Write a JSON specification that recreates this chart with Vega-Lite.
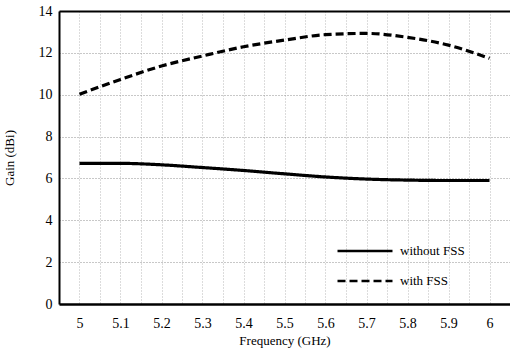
{
  "$schema": "https://vega.github.io/schema/vega-lite/v6.json",
  "width": 451,
  "height": 293,
  "autosize": {"type": "none"},
  "padding": {"left": 59, "top": 11, "right": 0, "bottom": 56},
  "background": "white",
  "config": {
    "view": {"stroke": null},
    "font": "Liberation Serif",
    "axis": {"labelFont": "Liberation Serif", "titleFont": "Liberation Serif", "labelColor": "black", "titleColor": "black", "titleFontWeight": "normal"},
    "legend": {"labelFont": "Liberation Serif"}
  },
  "data": {
    "values": [
      {"f": 5.0, "g": 6.72, "s": "without FSS"},
      {"f": 5.1, "g": 6.72, "s": "without FSS"},
      {"f": 5.2, "g": 6.65, "s": "without FSS"},
      {"f": 5.3, "g": 6.52, "s": "without FSS"},
      {"f": 5.4, "g": 6.38, "s": "without FSS"},
      {"f": 5.5, "g": 6.22, "s": "without FSS"},
      {"f": 5.6, "g": 6.07, "s": "without FSS"},
      {"f": 5.7, "g": 5.97, "s": "without FSS"},
      {"f": 5.8, "g": 5.92, "s": "without FSS"},
      {"f": 5.9, "g": 5.9, "s": "without FSS"},
      {"f": 6.0, "g": 5.9, "s": "without FSS"},
      {"f": 5.0, "g": 10.02, "s": "with FSS"},
      {"f": 5.1, "g": 10.73, "s": "with FSS"},
      {"f": 5.2, "g": 11.37, "s": "with FSS"},
      {"f": 5.3, "g": 11.85, "s": "with FSS"},
      {"f": 5.4, "g": 12.29, "s": "with FSS"},
      {"f": 5.5, "g": 12.61, "s": "with FSS"},
      {"f": 5.6, "g": 12.87, "s": "with FSS"},
      {"f": 5.7, "g": 12.93, "s": "with FSS"},
      {"f": 5.8, "g": 12.74, "s": "with FSS"},
      {"f": 5.9, "g": 12.37, "s": "with FSS"},
      {"f": 6.0, "g": 11.74, "s": "with FSS"}
    ]
  },
  "layer": [
    {
      "mark": {"type": "rule", "opacity": 0},
      "encoding": {
        "x": {
          "field": "f", "type": "quantitative",
          "scale": {"domain": [4.95, 6.05], "nice": false, "zero": false},
          "axis": {
            "orient": "top", "title": null, "labels": false, "ticks": false,
            "domainColor": "black", "domainWidth": 2, "grid": true,
            "values": [5, 5.05, 5.1, 5.15, 5.2, 5.25, 5.3, 5.35, 5.4, 5.45, 5.5, 5.55, 5.6, 5.65, 5.7, 5.75, 5.8, 5.85, 5.9, 5.95, 6],
            "gridColor": "#b8b8b8", "gridDash": [1, 2], "gridWidth": 1
          }
        }
      }
    },
    {
      "mark": {"type": "line", "interpolate": "monotone", "strokeWidth": 3.2, "color": "black"},
      "encoding": {
        "x": {
          "field": "f", "type": "quantitative",
          "scale": {"domain": [4.95, 6.05], "nice": false, "zero": false},
          "axis": {
            "orient": "bottom", "title": "Frequency (GHz)", "grid": false,
            "values": [5, 5.1, 5.2, 5.3, 5.4, 5.5, 5.6, 5.7, 5.8, 5.9, 6], "format": "~g",
            "labelFont": "Liberation Serif", "titleFont": "Liberation Serif",
            "ticks": false, "tickSize": 0, "labelPadding": 12, "labelFontSize": 14,
            "titleFontSize": 13, "titlePadding": 4,
            "domainColor": "black", "domainWidth": 2.5
          }
        },
        "y": {
          "field": "g", "type": "quantitative",
          "scale": {"domain": [0, 14], "nice": false},
          "axis": {
            "title": "Gain (dBi)", "values": [0, 2, 4, 6, 8, 10, 12, 14],
            "labelFont": "Liberation Serif", "titleFont": "Liberation Serif",
            "ticks": false, "tickSize": 0, "labelPadding": 7, "labelFontSize": 14,
            "titleFontSize": 13, "titlePadding": 22,
            "domainColor": "black", "domainWidth": 2,
            "grid": true, "gridColor": "#909090", "gridDash": [1, 2], "gridWidth": 1
          }
        },
        "strokeDash": {
          "field": "s", "type": "nominal",
          "scale": {"domain": ["without FSS", "with FSS"], "range": [[1, 0], [8, 4]]},
          "legend": {
            "title": null, "orient": "none", "legendX": 291, "legendY": 225,
            "symbolType": "M-2,0H2", "symbolSize": 756, "symbolStrokeWidth": 2.5,
            "symbolStrokeColor": "black", "symbolFillColor": "transparent", "labelFontSize": 13, "labelColor": "black",
            "labelFont": "Liberation Serif",
            "rowPadding": 8, "padding": 0, "labelOffset": 20
          }
        }
      }
    }
  ]
}
